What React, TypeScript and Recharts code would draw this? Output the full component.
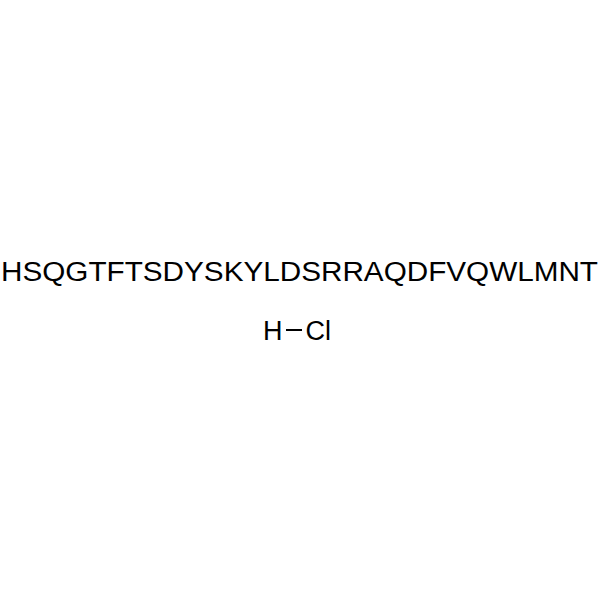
import React from "react";
import { LineChart, Customized } from "recharts";

const sequence: string[] = ["HSQGTFTSDYSKYLDSRRAQDFVQWLMNT"];
const saltAtoms: string[] = ["H", "Cl"];
const emptyData: { x: number }[] = [];

const FONT = "'Liberation Sans', Arial, Helvetica, sans-serif";

function Structure(props: any) {
  const w: number = props.width ?? 600;
  const cx = w / 2;
  return (
    <g>
      <text
        x={1}
        y={281}
        fontFamily={FONT}
        fontSize={27}
        fill="#000"
        textLength={597}
        lengthAdjust="spacingAndGlyphs"
      >
        {sequence[0]}
      </text>
      <text x={cx - 37} y={339.5} fontFamily={FONT} fontSize={27} fill="#000">
        {saltAtoms[0]}
      </text>
      <line x1={cx - 14} x2={cx + 2} y1={330} y2={330} stroke="#000" strokeWidth={2} />
      <text x={cx + 5.5} y={339.5} fontFamily={FONT} fontSize={27} fill="#000">
        {saltAtoms[1]}
      </text>
    </g>
  );
}

export default function App() {
  return (
    <div style={{ position: "absolute", left: 0, top: 0, width: 600, height: 600, background: "#fff" }}>
      <LineChart width={600} height={600} data={emptyData} margin={{ top: 0, right: 0, bottom: 0, left: 0 }}>
        <Customized component={Structure} />
      </LineChart>
    </div>
  );
}
